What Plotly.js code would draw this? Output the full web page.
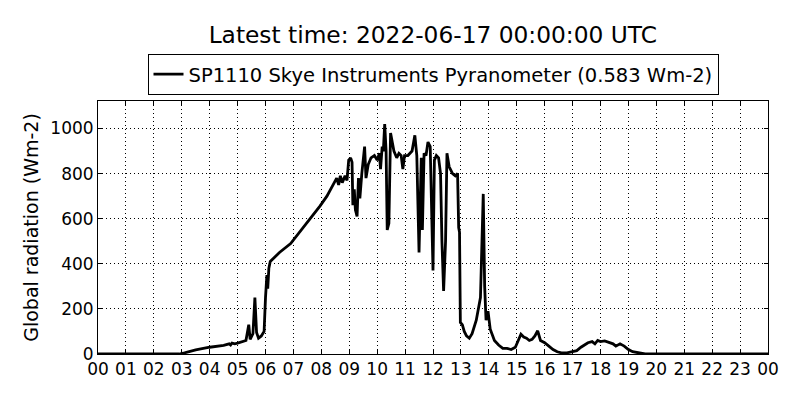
<!DOCTYPE html>
<html>
<head>
<meta charset="utf-8">
<script src="https://cdn.plot.ly/plotly-3.0.1.min.js"></script>
<style>
  body { margin: 0; background: #fff; }
  #chart { width: 800px; height: 400px; }
</style>
</head>
<body>
<div id="chart"></div>
<script>
// time of day in hours (UTC) and global radiation in Wm-2
var hours = [
  0, 1, 2, 2.9, 3.1, 3.5, 4.0, 4.5, 4.7, 4.75, 4.8, 4.9, 5.0, 5.2, 5.3, 5.4, 5.45,
  5.55, 5.62, 5.68, 5.75, 5.85, 5.95, 6.0, 6.05, 6.08, 6.12, 6.17, 6.5, 6.9, 7.25,
  7.6, 7.95, 8.2, 8.45, 8.55, 8.62, 8.68, 8.75, 8.85, 8.92, 8.98, 9.05, 9.1, 9.13,
  9.18, 9.22, 9.28, 9.33, 9.38, 9.45, 9.55, 9.6, 9.68, 9.78, 9.9, 10.0, 10.08, 10.12,
  10.18, 10.22, 10.27, 10.32, 10.36, 10.42, 10.48, 10.6, 10.7, 10.78, 10.86, 10.92,
  10.98, 11.1, 11.25, 11.35, 11.42, 11.5, 11.58, 11.62, 11.68, 11.75, 11.82, 11.9,
  11.95, 12.0, 12.05, 12.12, 12.2, 12.27, 12.32, 12.38, 12.45, 12.5, 12.58, 12.7,
  12.8, 12.88, 12.92, 12.95, 12.98, 13.05, 13.12, 13.2, 13.3, 13.4, 13.55, 13.7,
  13.8, 13.85, 13.9, 13.97, 14.05, 14.2, 14.35, 14.5, 14.65, 14.8, 14.95, 15.05,
  15.15, 15.25, 15.35, 15.45, 15.55, 15.65, 15.75, 15.85, 16.0, 16.15, 16.3, 16.45,
  16.6, 16.8, 17.0, 17.15, 17.3, 17.45, 17.55, 17.7, 17.8, 17.9, 18.0, 18.15, 18.3,
  18.45, 18.55, 18.7, 18.85, 19.0, 19.15, 19.35, 19.6, 24
];
var radiation = [
  0, 0, 0, 0, 5, 18, 30, 38, 45, 40, 48, 45, 48, 55, 60, 130, 65,
  90, 250, 95, 70, 80, 100, 250, 350, 290, 380, 410, 450, 490, 545,
  598, 656, 700, 755, 780, 750, 790, 760, 790, 770, 860, 870, 850, 660,
  730, 640, 610, 780, 690, 800, 920, 780, 840, 870, 880, 860, 890, 820,
  920, 900, 1020, 900, 550, 580, 980, 900, 870, 890, 880, 820,
  880, 880, 900, 970, 880, 450, 870, 550, 890, 880, 940, 920,
  650, 370, 860, 880, 870, 800, 500, 280, 500, 890, 830, 800,
  790, 800, 560, 540, 140, 130, 100, 80, 70, 90, 150, 250,
  710, 300, 150, 190, 110, 60, 40, 25, 25, 20, 30, 60,
  88, 75, 70, 60, 65, 80, 103, 60, 50, 35, 20, 10,
  5, 5, 10, 15, 30, 40, 50, 55, 45, 60, 55, 58, 50,
  45, 35, 45, 35, 20, 10, 5, 0, 0
];
var hourTicks = [];
var hourLabels = [];
for (var h = 0; h <= 24; h++) {
  hourTicks.push(h);
  hourLabels.push(('0' + (h % 24)).slice(-2));
}

var trace = {
  x: hours,
  y: radiation,
  name: 'SP1110 Skye Instruments Pyranometer (0.583 Wm-2)',
  type: 'scatter',
  mode: 'lines',
  line: {color: '#000', width: 2.8}
};

var axisStyle = {
  showline: true,
  linecolor: '#000',
  linewidth: 1,
  mirror: 'ticks',
  ticks: 'inside',
  ticklen: 4,
  tickcolor: '#000',
  showgrid: true,
  gridcolor: '#000',
  gridwidth: 1,
  griddash: '1px,3px',
  zeroline: false,
  tickfont: {size: 17, color: '#000'}
};

var layout = {
  width: 800,
  height: 400,
  margin: {l: 98, r: 32, t: 101, b: 46},
  paper_bgcolor: '#fff',
  plot_bgcolor: '#fff',
  font: {family: 'DejaVu Sans', color: '#000'},
  title: {
    text: 'Latest time: 2022-06-17 00:00:00 UTC',
    font: {size: 23.3},
    x: 0.541, xanchor: 'center',
    y: 0.912, yanchor: 'middle', yref: 'container'
  },
  showlegend: true,
  legend: {
    orientation: 'h',
    x: 0.5, xanchor: 'center',
    y: 1.186, yanchor: 'top',
    bordercolor: '#000',
    borderwidth: 1,
    font: {size: 19.5}
  },
  xaxis: Object.assign({}, axisStyle, {
    range: [0, 24],
    tickvals: hourTicks,
    ticktext: hourLabels
  }),
  yaxis: Object.assign({}, axisStyle, {
    range: [0, 1122],
    tickvals: [0, 200, 400, 600, 800, 1000],
    title: {text: 'Global radiation (Wm-2)', font: {size: 19}, standoff: 6}
  })
};

Plotly.newPlot('chart', [trace], layout, {displayModeBar: false, staticPlot: true});
</script>
</body>
</html>
